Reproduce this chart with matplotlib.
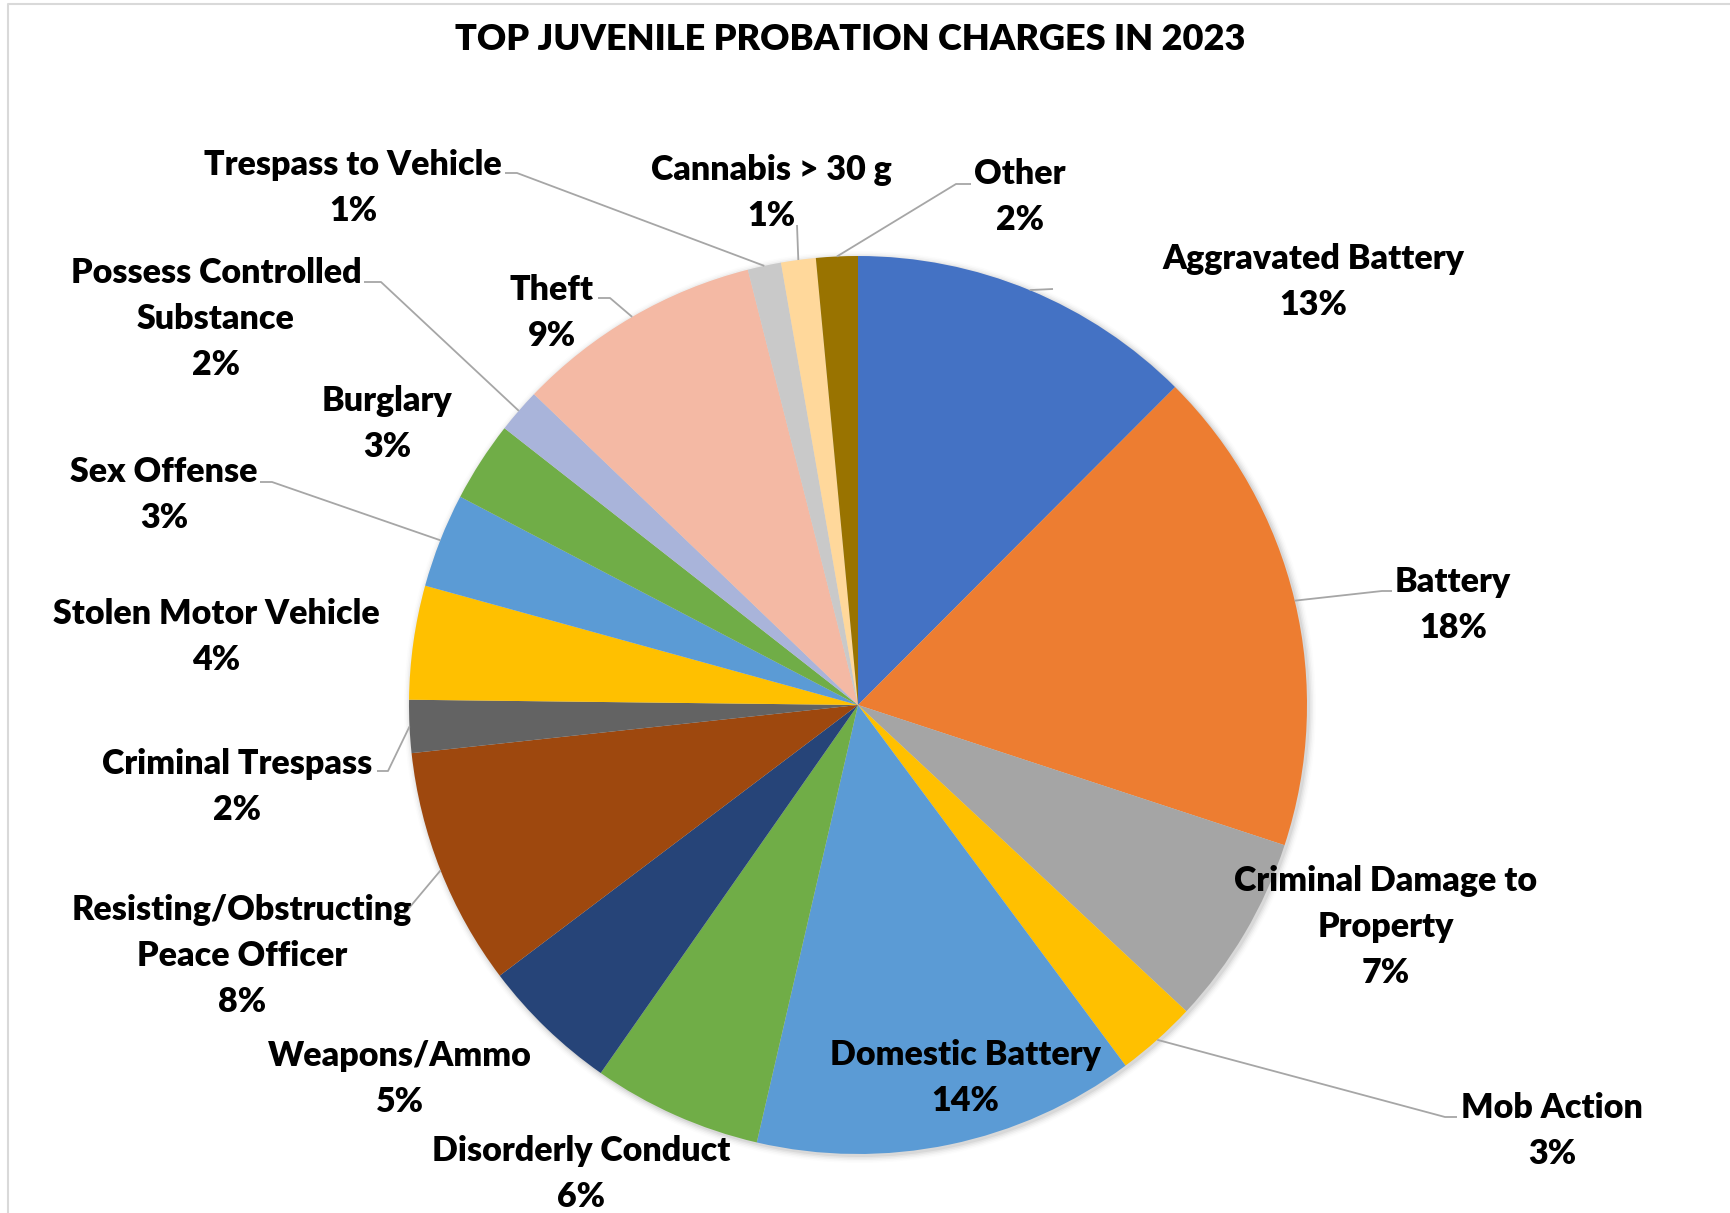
import numpy as np
import matplotlib
matplotlib.use('Agg')
import matplotlib.pyplot as plt
from matplotlib.patches import Circle
from matplotlib.lines import Line2D

# shares of 2023 juvenile probation charges (percent)
charges = ['Aggravated Battery', 'Battery', 'Criminal Damage to\nProperty', 'Mob Action',
           'Domestic Battery', 'Disorderly Conduct', 'Weapons/Ammo',
           'Resisting/Obstructing\nPeace Officer', 'Criminal Trespass',
           'Stolen Motor Vehicle', 'Sex Offense', 'Burglary',
           'Possess Controlled\nSubstance', 'Theft', 'Trespass to Vehicle',
           'Cannabis > 30 g', 'Other']
shares = [12.5, 17.6, 6.9, 2.9, 13.8, 6.1, 5.0, 8.6, 1.9, 4.1, 3.4, 2.9, 1.6, 8.9, 1.2, 1.25, 1.5]
pct_labels = ['13%', '18%', '7%', '3%', '14%', '6%', '5%', '8%', '2%', '4%', '3%', '3%',
              '2%', '9%', '1%', '1%', '2%']
colors = ['#4472C4', '#ED7D31', '#A5A5A5', '#FFC000', '#5B9BD5', '#70AD47', '#264478',
          '#9E480E', '#636363', '#FFC000', '#5B9BD5', '#70AD47', '#A9B4DA', '#F4B9A4',
          '#C9C9C9', '#FFD89B', '#997300']

W, H = 1731, 1213
CX, CY, R = 858, 705, 449

# label block centres and leader elbow points, in image pixels (y down)
label_pos = [(1313, 282), (1453, 605), (1386, 927), (1552, 1131), (965, 1078),
             (581, 1174), (400, 1079), (242, 956), (237, 787), (216, 637),
             (164, 495), (387, 424), (216, 319), (552, 313), (353, 188),
             (771, 193), (1020, 197)]
leaders = {0: [(1053, 289)],
           1: [(1382, 591), (1392, 591)],
           3: [(1445, 1117), (1457, 1117)],
           7: [(404, 914)],
           8: [(388, 771), (377, 771)],
           10: [(272, 482), (260, 482)],
           12: [(381, 282), (364, 282)],
           13: [(610, 298), (598, 298)],
           14: [(517, 173), (505, 173)],
           15: [(797, 225)],
           16: [(956, 184), (971, 184)]}

plt.rcParams['font.family'] = ['Lato', 'DejaVu Sans']

fig = plt.figure(figsize=(W / 100, H / 100), dpi=100)
ax = fig.add_axes([0, 0, 1, 1])


def px(x, y):
    return x, H - y


# soft shadow behind the pie
for i, a in enumerate([0.05, 0.04, 0.03, 0.02, 0.01]):
    ax.add_patch(Circle(px(CX + 2, CY + 2), R + 1 + i * 1.5, color='black', alpha=a, lw=0, zorder=0))

wedges, _ = ax.pie(shares, colors=colors, startangle=90, counterclock=False,
                   center=px(CX, CY), radius=R, wedgeprops=dict(linewidth=0))
for w in wedges:
    w.set_zorder(1)

for i, w in enumerate(wedges):
    lx, ly = label_pos[i]
    ax.text(*px(lx, ly), charges[i] + '\n' + pct_labels[i], ha='center', va='center',
            fontsize=24.5, fontweight='heavy', linespacing=1.52, zorder=3)
    if i in leaders:
        mid = np.deg2rad((w.theta1 + w.theta2) / 2)
        sx = w.center[0] + R * np.cos(mid)
        sy = w.center[1] + R * np.sin(mid)
        pts = [(sx, sy)] + [px(x, y) for x, y in leaders[i]]
        xs, ys = zip(*pts)
        ax.plot(xs, ys, color='#A6A6A6', lw=1.3, zorder=2, solid_capstyle='butt')

ax.text(*px(850, 40), 'TOP JUVENILE PROBATION CHARGES IN 2023', ha='center', va='center',
        fontsize=26, fontweight='heavy')

ax.set_xlim(0, W)
ax.set_ylim(0, H)
ax.set_aspect('equal')
ax.axis('off')

# chart area border (left and top visible)
fig.add_artist(Line2D([8 / W, 8 / W, 1], [0, 1 - 4 / H, 1 - 4 / H], color='#D9D9D9', lw=1.5))

fig.savefig('out.png', dpi=100)
